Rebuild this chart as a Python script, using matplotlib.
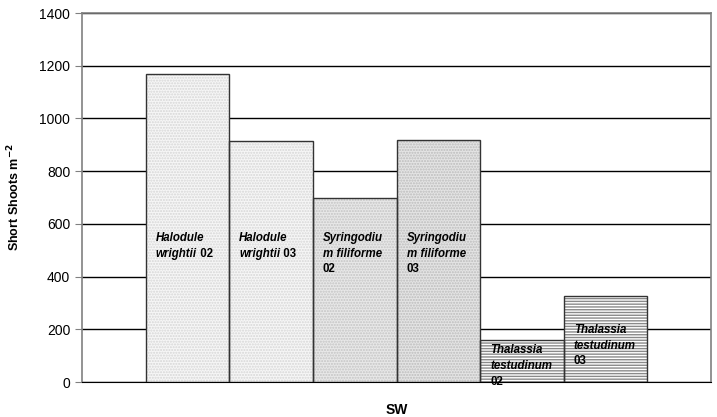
import matplotlib
matplotlib.use("Agg")
import matplotlib.pyplot as plt
import numpy as np

plt.rcParams['font.family'] = ['Liberation Sans', 'DejaVu Sans']

# data
site = 'SW'
name_lines = [['Halodule', 'wrightii'], ['Halodule', 'wrightii'],
              ['Syringodiu', 'm filiforme'], ['Syringodiu', 'm filiforme'],
              ['Thalassia', 'testudinum'], ['Thalassia', 'testudinum']]
years = ['02', '03', '02', '03', '02', '03']
year_inline = [True, True, False, False, False, False]
shoots = [1170, 915, 700, 920, 160, 328]

# styling per bar
face = ['#f6f6f6', '#f6f6f6', '#e8e8e8', '#e4e4e4', 'white', 'white']
hatch_col = ['#d6d6d6', '#d6d6d6', '#c4c4c4', '#bcbcbc', '#8a8a8a', '#8a8a8a']
hatches = ['......', '......', '......', '......', '------', '------']
label_y = [547, 547, 547, 547, 120, 198]

fig = plt.figure(figsize=(7.17, 4.17), dpi=100)
ax = fig.add_axes([0.1144, 0.0839, 0.8772, 0.8849])

x = np.arange(len(shoots)) - (len(shoots) - 1) / 2
ax.set_xlim(-3.76, 3.76)
ax.set_ylim(0, 1400)

ax.set_axisbelow(True)
ax.yaxis.grid(True, color='black', lw=1)

for i in range(len(shoots)):
    ax.bar(x[i], shoots[i], width=1, color=face[i], hatch=hatches[i],
           edgecolor=hatch_col[i], lw=0, zorder=2)
    ax.bar(x[i], shoots[i], width=1, fill=False, edgecolor='#333333',
           lw=1, zorder=3)

    tx = x[i] - 0.5 + 0.12
    t = None
    for k, line in enumerate(name_lines[i]):
        t = ax.annotate(line, xy=(tx, label_y[i]), xytext=(0, -11.3 * k),
                        textcoords='offset points', fontsize=8.3, fontweight='bold',
                        fontstyle='italic', va='center', ha='left', zorder=4)
    if year_inline[i]:
        ax.annotate(' ' + years[i], xy=(1, 0), xycoords=t, va='bottom',
                    ha='left', fontsize=8.3, fontweight='bold', zorder=4)
    else:
        ax.annotate(years[i], xy=(tx, label_y[i]),
                    xytext=(0, -11.3 * len(name_lines[i])),
                    textcoords='offset points', fontsize=8.3, fontweight='bold',
                    va='center', ha='left', zorder=4)

ax.set_xticks([])
ax.set_yticks(np.arange(0, 1401, 200))
ax.tick_params(axis='y', labelsize=10, length=5, direction='out', color='#808080')
for s in ['left', 'right', 'top']:
    ax.spines[s].set_color('#808080')
    ax.spines[s].set_linewidth(1.2)
ax.spines['bottom'].set_color('black')

ax.set_ylabel(r'Short Shoots m$^{\mathbf{-2}}$', fontsize=9, fontweight='bold',
              labelpad=12)
ax.set_xlabel(site, fontsize=10, fontweight='bold', labelpad=15)

fig.savefig('out.png', dpi=100)
